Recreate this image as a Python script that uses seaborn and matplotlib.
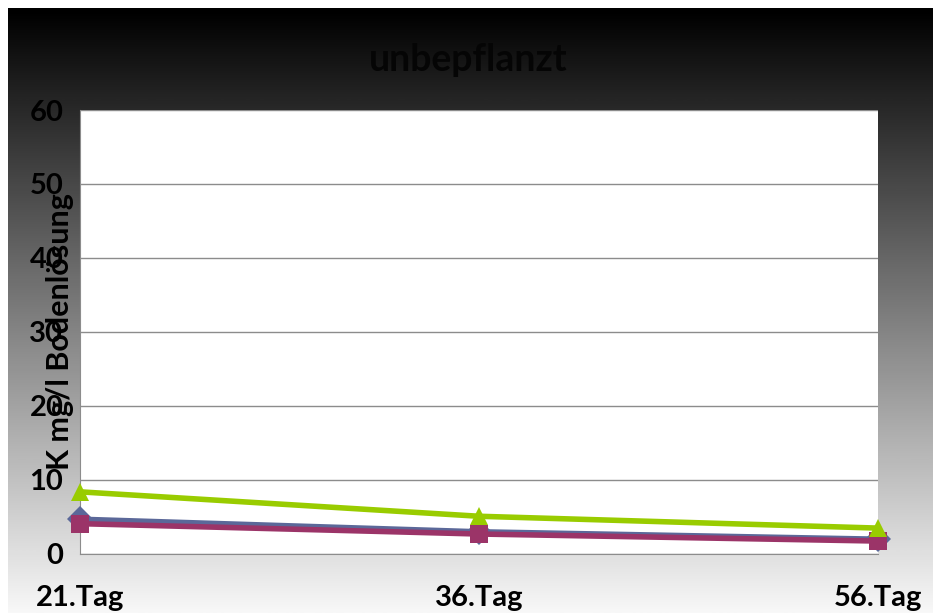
import numpy as np
import pandas as pd
import matplotlib
matplotlib.use("Agg")
import matplotlib.pyplot as plt
import seaborn as sns

days = ["21.Tag", "36.Tag", "56.Tag"]
serie_blau = [4.7, 3.0, 2.0]
serie_lila = [4.1, 2.7, 1.75]
serie_gruen = [8.4, 5.1, 3.5]
yticks = [0, 10, 20, 30, 40, 50, 60]

df = pd.DataFrame({
    "Tag": days * 3,
    "K": serie_blau + serie_lila + serie_gruen,
    "Serie": ["blau"] * 3 + ["lila"] * 3 + ["gruen"] * 3,
})
df["pos"] = list(range(len(days))) * 3

sns.set_style("white")
plt.rcParams['font.family'] = ['Lato', 'DejaVu Sans']
plt.rcParams['text.color'] = 'black'
plt.rcParams['xtick.color'] = 'black'
plt.rcParams['ytick.color'] = 'black'
plt.rcParams['axes.labelcolor'] = 'black'

fig = plt.figure(figsize=(9.33, 6.13), dpi=100)

# background gradient (black top -> light grey bottom)
bg = fig.add_axes([8/933, 0, 1 - 8/933, 1 - 8/613], zorder=-5)
grad = np.linspace(0.0, 0.97, 256).reshape(-1, 1)
bg.imshow(grad, aspect="auto", cmap="gray", vmin=0, vmax=1, extent=[0, 1, 0, 1], origin="upper")
bg.axis("off")

ax = fig.add_axes([80/933, 59/613, 798/933, 444/613])
ax.set_facecolor("white")

pal = {"blau": "#5b6899", "lila": "#9b3468", "gruen": "#99cc00"}
mk = {"blau": "D", "lila": "s", "gruen": "^"}
sns.lineplot(data=df, x="pos", y="K", hue="Serie", style="Serie", palette=pal,
             markers=mk, dashes=False, linewidth=4, markersize=13,
             markeredgewidth=0, legend=False, ax=ax, zorder=5, clip_on=False)

ax.set_xlim(0, 2)
ax.set_ylim(0, 60)
ax.set_yticks(yticks)
ax.set_xticks(range(len(days)))
ax.set_xticklabels(days)
ax.yaxis.grid(True, color="#8c8c8c", linewidth=1)
ax.xaxis.grid(False)
for s in ["top", "right"]:
    ax.spines[s].set_visible(False)
ax.spines["left"].set_color("#8c8c8c")
ax.spines["bottom"].set_color("#8c8c8c")
ax.tick_params(axis="both", length=8, color="#8c8c8c", direction="out",
               labelsize=21, pad=4, labelcolor="black")
for t in ax.get_xticklabels() + ax.get_yticklabels():
    t.set_fontweight("bold")
ax.tick_params(axis="x", pad=14)
ax.set_xlabel("")
ax.set_ylabel("K mg/l Bodenlösung", fontsize=22, fontweight="bold", color="black")
ax.yaxis.set_label_coords(-0.008, 0.5)

fig.text(468/933, 1 - 60/613, "unbepflanzt", ha="center", va="center",
         fontsize=27, fontweight="bold", color="#050505")

fig.savefig("out.png", dpi=100)
